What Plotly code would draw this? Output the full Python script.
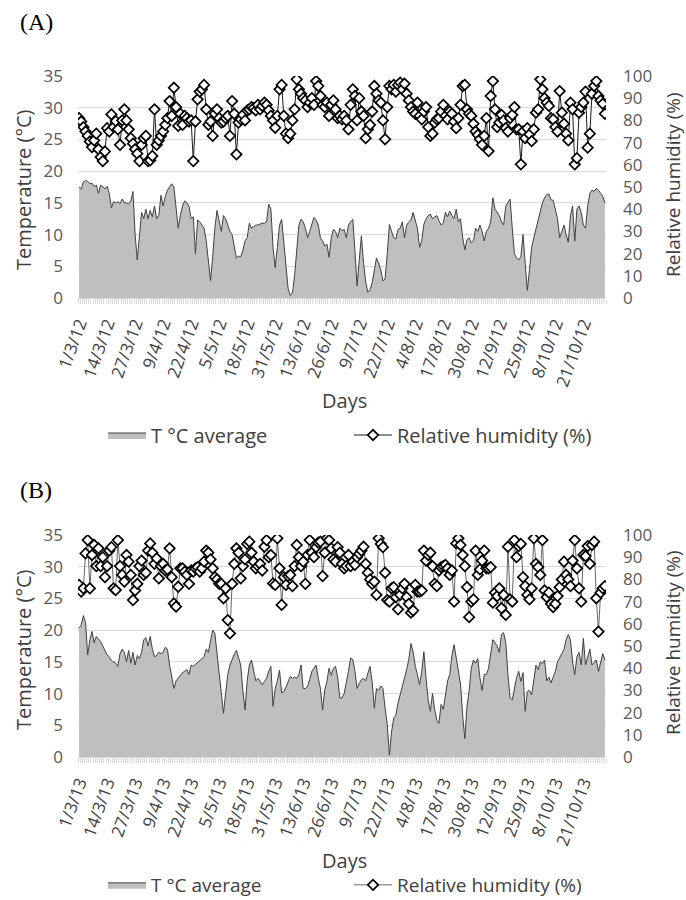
import pandas as pd
import plotly.graph_objects as go

start_date = "2012-03-01"
start_date_b = "2013-03-01"
n_days = 245

temp_a = [17.5, 17.2, 18.3, 18.5, 18.4, 18.0, 18.1, 17.6, 17.8, 16.5,
          17.8, 17.5, 17.2, 17.6, 16.5, 14.2, 15.2, 15.0, 15.2, 14.9,
          15.6, 15.0, 15.0, 14.8, 15.3, 16.8, 10.0, 6.0, 9.5, 13.5,
          12.5, 14.0, 12.5, 13.8, 12.8, 14.5, 12.5, 13.0, 16.2, 14.5,
          16.0, 17.0, 17.5, 18.0, 17.5, 14.0, 11.0, 13.0, 14.5, 15.3,
          15.0, 14.5, 12.5, 12.8, 7.0, 12.3, 12.0, 11.5, 11.0, 9.0,
          5.5, 2.7, 6.5, 11.0, 13.8, 12.0, 10.5, 13.0, 12.5, 11.5,
          10.5, 10.0, 8.0, 6.3, 6.6, 6.5, 7.5, 9.0, 9.5, 11.8,
          11.0, 11.3, 11.5, 11.5, 11.7, 11.8, 11.8, 12.0, 14.8, 14.0,
          8.0, 4.8, 8.0, 11.5, 12.4, 8.5, 4.5, 1.5, 0.4, 0.8,
          3.5, 8.0, 11.5, 12.4, 12.0, 11.0, 9.5, 10.5, 11.5, 12.7,
          12.3, 11.5, 9.5, 9.0, 8.2, 8.5, 6.4, 9.5, 10.8, 10.5,
          9.5, 11.0, 10.6, 10.8, 9.5, 11.5, 12.0, 12.4, 7.5, 1.9,
          6.0, 9.8, 5.5, 2.5, 0.9, 1.3, 2.4, 4.5, 6.3, 5.5,
          4.4, 2.7, 3.0, 7.0, 11.6, 10.5, 9.5, 9.3, 10.8, 11.0,
          12.0, 9.5, 11.5, 12.0, 12.3, 13.5, 12.2, 11.0, 8.0, 9.0,
          11.6, 12.5, 13.0, 13.2, 12.5, 12.8, 13.0, 12.2, 11.5, 11.8,
          13.5, 12.8, 13.7, 13.0, 12.5, 14.0, 12.0, 12.5, 9.5, 7.6,
          9.2, 9.5, 8.7, 9.0, 11.0, 10.5, 11.5, 10.5, 9.0, 10.5,
          11.0, 12.0, 15.8, 14.0, 13.5, 13.0, 12.0, 11.5, 14.5, 15.0,
          15.6, 11.0, 7.0, 6.3, 6.0, 6.5, 10.0, 5.5, 1.2, 4.5,
          8.0, 9.5, 11.0, 12.5, 13.5, 15.0, 15.8, 16.3, 16.4, 15.5,
          15.4, 14.0, 12.5, 9.5, 10.5, 11.5, 10.0, 8.8, 13.0, 14.5,
          9.0, 14.0, 14.5, 13.5, 11.5, 11.0, 14.5, 16.5, 17.0, 16.8,
          17.3, 17.0, 16.5, 16.0, 15.0]

hum_a = [81, 79.5, 77, 75, 73, 70.5, 68, 71, 74, 67,
         63.5, 61.7, 66, 76.5, 75, 82.7, 77, 79.7, 76, 69,
         80, 85, 80, 76, 72, 69.5, 67, 65, 61.7, 69,
         72, 73, 61.7, 62, 64, 85, 69, 71, 73, 75,
         78, 81, 88.7, 82, 94.7, 86, 77.5, 83, 78, 82,
         81, 79.5, 80, 61.7, 79.5, 89.5, 93, 94, 96, 85,
         78, 79.5, 73, 83, 85, 81, 79, 79.5, 81, 82,
         73, 88.7, 83, 64.7, 79, 80.5, 82.5, 80, 84.5, 85,
         86, 85.5, 84.5, 87, 85, 86.5, 88, 87, 84.5, 82,
         80, 76.7, 82, 94, 96, 82, 74, 72, 74, 80,
         85, 98.5, 94, 92, 90, 89, 86, 88, 90, 87,
         97.7, 95.5, 91, 87, 86, 88, 82, 87, 89, 85,
         81, 82, 80.5, 82, 80, 76, 87, 94, 91, 80,
         90, 84, 82, 72, 76, 78, 84, 95.5, 92, 89,
         88, 80, 71.5, 86, 95.5, 94, 96, 93, 96, 97,
         94, 96.5, 92, 89, 86, 84, 83, 88, 82, 80.5,
         84, 86, 77, 73, 74, 79, 80.5, 81, 84, 87,
         82, 80.5, 84, 83, 79.5, 76.5, 81, 87, 95.5, 96,
         85, 83, 82, 78.5, 75, 73.5, 71.5, 69, 73, 81,
         66.2, 91, 97.7, 85, 77, 79, 82.5, 80, 76.5, 75,
         81, 82.5, 86, 76, 76, 60.2, 75, 72, 76.5, 73.7,
         70.7, 76, 83.5, 85, 98.5, 94, 90, 88, 86.5, 81,
         80.5, 77, 75, 93.2, 83.5, 78.5, 74, 71, 88, 85,
         60.2, 63, 83.5, 86, 88, 93, 67.7, 74, 92, 95.5,
         97.7, 91, 89, 87.5, 83]

temp_b = [20.3, 20.8, 22.3, 21.2, 16.1, 18.5, 19.8, 18.0, 19.0, 18.6,
          18.2, 17.5, 16.8, 16.1, 15.8, 15.2, 15.0, 14.8, 14.3, 16.3,
          17.0, 16.5, 15.0, 16.8, 14.8, 16.5, 14.5, 16.0, 15.5, 16.5,
          18.5, 18.8, 17.5, 19.0, 17.0, 15.8, 16.0, 16.5, 16.3, 16.5,
          17.3, 17.0, 14.5, 12.5, 10.8, 12.0, 12.4, 12.8, 13.3, 13.5,
          13.8, 13.0, 14.5, 14.3, 14.6, 15.0, 15.2, 15.5, 15.8, 17.0,
          16.5, 18.3, 20.0, 19.5, 16.5, 13.5, 10.0, 6.9, 10.0, 13.0,
          14.5, 15.5, 16.2, 16.8, 15.8, 14.5, 10.5, 7.4, 12.0, 14.5,
          15.3, 13.5, 12.0, 12.4, 11.9, 11.4, 11.9, 12.4, 13.5, 14.3,
          8.0, 10.8, 12.0, 13.7, 10.1, 10.3, 11.0, 11.8, 12.7, 12.4,
          12.6, 12.4, 13.0, 14.5, 10.8, 10.8, 11.1, 12.2, 13.5, 14.0,
          14.5, 12.4, 10.8, 7.4, 10.6, 11.9, 14.0, 12.9, 14.0, 14.3,
          12.5, 9.3, 9.3, 10.0, 11.5, 13.5, 15.6, 15.4, 13.5, 10.8,
          11.6, 12.2, 12.4, 12.0, 13.2, 14.3, 11.8, 7.7, 10.8, 10.5,
          11.2, 10.8, 7.7, 5.1, 0.3, 4.0, 6.1, 6.6, 8.5, 9.8,
          10.8, 12.2, 13.8, 15.4, 17.9, 16.6, 14.3, 13.0, 11.4, 13.5,
          16.6, 12.4, 9.0, 7.2, 10.0, 7.5, 5.8, 5.3, 8.3, 7.5,
          10.2, 12.0, 13.0, 16.0, 17.7, 15.8, 13.5, 11.5, 6.5, 2.9,
          8.0, 10.5, 14.0, 15.3, 14.8, 15.5, 12.5, 10.5, 13.0, 13.0,
          14.0, 16.5, 18.5, 18.0, 17.5, 16.5, 19.3, 19.6, 18.0, 13.0,
          9.3, 9.0, 11.0, 12.5, 13.5, 11.9, 13.3, 7.2, 10.3, 10.5,
          9.8, 12.0, 14.5, 13.8, 15.0, 14.7, 15.3, 12.0, 12.6, 11.7,
          12.5, 13.5, 15.0, 15.8, 16.3, 17.0, 18.5, 19.3, 18.5, 15.0,
          13.0, 15.8, 16.5, 14.5, 18.7, 14.5, 15.8, 17.0, 14.5, 15.0,
          15.3, 13.5, 14.8, 16.3, 15.3]

hum_b = [77.5, 74.5, 76, 91.7, 97.7, 76, 91, 95.5, 86, 94,
         86, 90, 81, 86, 93, 94.5, 76, 75.2, 97.7, 86,
         82, 79, 91, 88, 82, 70.7, 75, 78, 86, 88.5,
         82, 83, 93, 96.2, 92, 87, 89.5, 80.5, 86, 87,
         84, 84.5, 94, 81, 69.2, 67.7, 76.7, 85, 85, 83.5,
         82, 78, 84, 83.5, 85, 85.5, 83.5, 85, 88, 93,
         92, 89, 85, 81, 80, 78, 78, 71.5, 76, 61.7,
         55.7, 78, 87, 94, 92, 80.5, 86, 89, 96, 97,
         92, 88, 85, 86, 87, 84, 94.7, 97.7, 90, 91,
         78.2, 77.5, 98.5, 85, 68.5, 81, 77.5, 81.5, 82, 77,
         86, 95.5, 90, 86, 88, 78, 91, 97.7, 92, 90,
         94.5, 96.5, 97, 81.5, 92, 98.5, 97.7, 94, 89, 88,
         94.5, 92, 87, 85, 86, 91, 86, 88, 86.5, 90,
         91.5, 93, 94.7, 87, 83, 80, 78, 79, 73, 98.5,
         96, 94.5, 83, 70.7, 70, 76, 76.5, 72, 66.5, 73,
         76, 78, 72, 69, 65, 66, 77.5, 74.5, 74.5, 75,
         93, 88.5, 91, 92, 86, 78, 77, 84, 85.5, 86,
         86.5, 85, 82, 84, 70, 96.2, 98.5, 95.5, 91, 86,
         76.5, 63, 70, 71, 93, 82, 84.5, 88.5, 93, 85,
         85, 85.5, 69.5, 74, 72.5, 76, 67, 73, 64, 94.7,
         71, 70, 97.7, 90, 95, 96, 81, 77, 73, 71,
         76, 98.5, 87, 85.5, 82, 97.7, 75, 72, 74, 69,
         67.5, 69, 72.5, 76.5, 80, 88, 82, 80, 77, 88.5,
         97.7, 85, 76, 70, 91, 90.5, 95, 87, 95.5, 97,
         71.5, 56.5, 74, 76, 77]

for s in (temp_a, hum_a, temp_b, hum_b):
    assert len(s) == n_days, len(s)

days_a = pd.date_range(start_date, periods=n_days, freq="D")
days_b = pd.date_range(start_date_b, periods=n_days, freq="D")

FONT = "Open Sans"
TICK_COLOR = "#595959"
TEXT_COLOR = "#404040"
GRID = "#D9D9D9"
DAY_MS = 86400000

fig = go.Figure()

panels = [
    dict(days=days_a, temp=temp_a, hum=hum_a, x="x", y="y", y2="y2",
         leg_t="legend", leg_h="legend3", lw=1.0, lc="#1a1a1a"),
    dict(days=days_b, temp=temp_b, hum=hum_b, x="x2", y="y3", y2="y4",
         leg_t="legend2", leg_h="legend4", lw=0.8, lc="#404040"),
]
for p in panels:
    fig.add_trace(go.Scatter(
        x=p["days"], y=p["temp"], mode="lines", fill="tozeroy",
        fillcolor="#BFBFBF", line=dict(color="#404040", width=1),
        name="T °C average", xaxis=p["x"], yaxis=p["y"], legend=p["leg_t"],
    ))
    fig.add_trace(go.Scatter(
        x=p["days"], y=p["hum"], mode="lines+markers",
        line=dict(color=p["lc"], width=p["lw"]),
        marker=dict(symbol="diamond", size=8, color="white",
                    line=dict(color="black", width=1.7)),
        name="Relative humidity (%)", xaxis=p["x"], yaxis=p["y2"], legend=p["leg_h"],
    ))

W, H = 686, 900
x_dom = [78 / W, 606 / W]


def ydom(top, bottom):
    return [1 - bottom / H, 1 - top / H]


def xaxis_cfg(anchor, start):
    s = pd.Timestamp(start)
    return dict(
        domain=x_dom, anchor=anchor, type="date", automargin=False,
        range=[s - pd.Timedelta(hours=12), s + pd.Timedelta(days=n_days) - pd.Timedelta(hours=12)],
        tick0=s, dtick=13 * DAY_MS, tickformat="%-d/%-m/%y",
        tickangle=-70, tickfont=dict(family=FONT, size=17, color=TEXT_COLOR),
        ticks="", showgrid=False, showline=True, linecolor=GRID, linewidth=1,
        ticklabelstandoff=8,
        minor=dict(ticks="outside", ticklen=5, tickcolor=GRID, tickwidth=1,
                   dtick=DAY_MS, tick0=s - pd.Timedelta(hours=12), showgrid=False),
        zeroline=False,
    )


def ytemp_cfg(dom, anchor):
    return dict(domain=dom, anchor=anchor, range=[0, 35], dtick=5, tick0=0, automargin=False,
                showgrid=True, gridcolor=GRID, gridwidth=1, zeroline=False,
                ticks="", ticklabelstandoff=14,
                tickfont=dict(family=FONT, size=17, color=TICK_COLOR))


def yhum_cfg(over, anchor):
    return dict(overlaying=over, side="right", anchor=anchor, range=[0, 100], dtick=10,
                tick0=0, showgrid=False, zeroline=False, ticks="", ticklabelstandoff=16,
                automargin=False,
                tickfont=dict(family=FONT, size=17, color=TICK_COLOR))


def legend_cfg(x_px, y_px, size):
    return dict(orientation="h", x=x_px / W, xanchor="left", y=1 - y_px / H, yanchor="middle",
                font=dict(family=FONT, size=size, color=TEXT_COLOR), itemwidth=38,
                bgcolor="rgba(0,0,0,0)", borderwidth=0)


fig.update_layout(
    width=W, height=H, margin=dict(l=0, r=0, t=0, b=0, pad=0, autoexpand=False),
    paper_bgcolor="white", plot_bgcolor="white",
    font=dict(family=FONT, color=TEXT_COLOR),
    xaxis=xaxis_cfg("y", start_date),
    xaxis2=xaxis_cfg("y3", start_date_b),
    yaxis=ytemp_cfg(ydom(76, 298), "x"),
    yaxis2=yhum_cfg("y", "x"),
    yaxis3=ytemp_cfg(ydom(535, 757), "x2"),
    yaxis4=yhum_cfg("y3", "x2"),
    legend=legend_cfg(103, 435, 20),
    legend3=legend_cfg(349, 435, 20),
    legend2=legend_cfg(103, 885, 19),
    legend4=legend_cfg(349, 885, 19),
    showlegend=True,
)

ann = []
for label, yc in (("(A)", 22), ("(B)", 490)):
    ann.append(dict(text=label, x=18 / W, y=1 - yc / H, xref="paper", yref="paper",
                    xanchor="left", yanchor="middle", showarrow=False,
                    font=dict(family="Liberation Serif", size=24, color="black")))
for yc in (190, 650):
    ann.append(dict(text="Temperature (°C)", x=23 / W, y=1 - yc / H, xref="paper", yref="paper",
                    textangle=-90, xanchor="center", yanchor="middle", showarrow=False,
                    font=dict(family=FONT, size=20, color=TEXT_COLOR)))
for yc in (185, 643):
    ann.append(dict(text="Relative humidity (%)", x=673 / W, y=1 - yc / H, xref="paper", yref="paper",
                    textangle=-90, xanchor="center", yanchor="middle", showarrow=False,
                    font=dict(family=FONT, size=19, color=TEXT_COLOR)))
for yc in (400, 860):
    ann.append(dict(text="Days", x=344 / W, y=1 - yc / H, xref="paper", yref="paper",
                    xanchor="center", yanchor="middle", showarrow=False,
                    font=dict(family=FONT, size=20, color=TEXT_COLOR)))
fig.update_layout(annotations=ann)

fig.write_html(
    "out.html",
    config={"displayModeBar": False},
    post_script="document.body.style.margin='0';document.body.style.overflow='hidden';",
)
